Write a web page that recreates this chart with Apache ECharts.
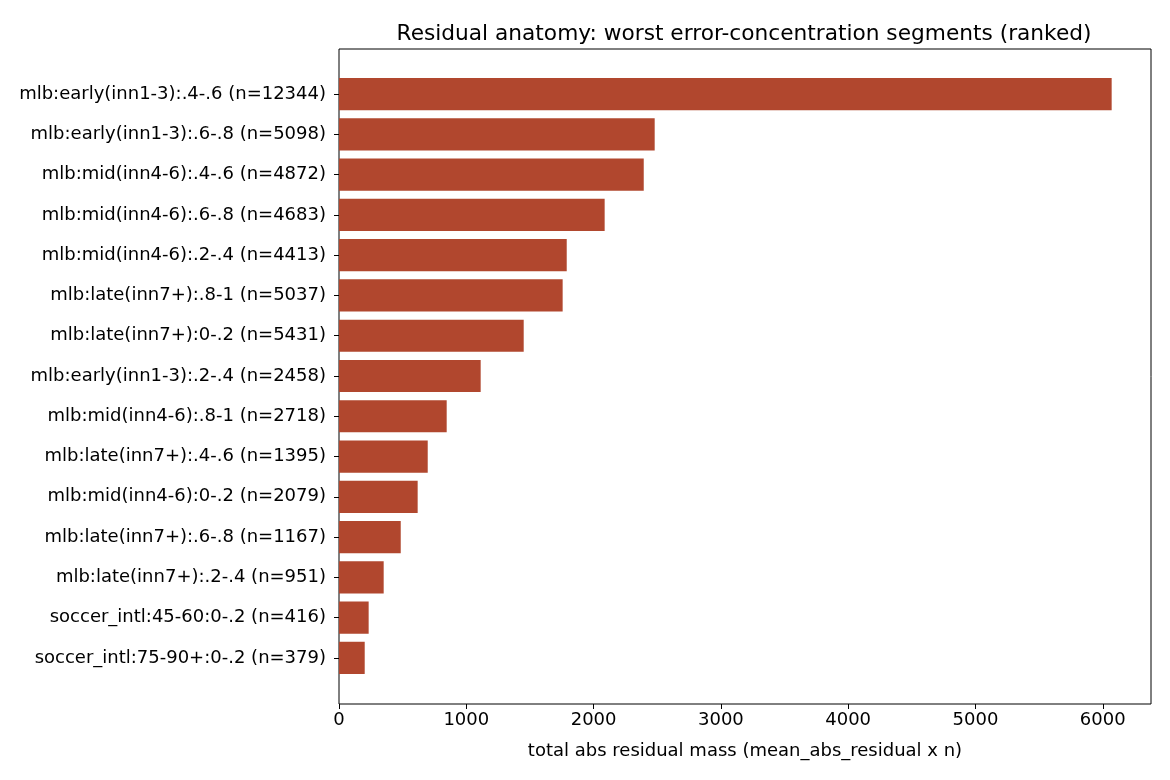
<!DOCTYPE html>
<html>
<head>
<meta charset="utf-8">
<title>Residual anatomy</title>
<script src="https://cdn.jsdelivr.net/npm/echarts@6/dist/echarts.min.js"></script>
<style>
  html, body { margin: 0; padding: 0; background: #fff; }
  #chart { width: 1170px; height: 780px; }
</style>
</head>
<body>
<div id="chart"></div>
<script>
// segments, ranked worst first
var segments = [
  'mlb:early(inn1-3):.4-.6 (n=12344)',
  'mlb:early(inn1-3):.6-.8 (n=5098)',
  'mlb:mid(inn4-6):.4-.6 (n=4872)',
  'mlb:mid(inn4-6):.6-.8 (n=4683)',
  'mlb:mid(inn4-6):.2-.4 (n=4413)',
  'mlb:late(inn7+):.8-1 (n=5037)',
  'mlb:late(inn7+):0-.2 (n=5431)',
  'mlb:early(inn1-3):.2-.4 (n=2458)',
  'mlb:mid(inn4-6):.8-1 (n=2718)',
  'mlb:late(inn7+):.4-.6 (n=1395)',
  'mlb:mid(inn4-6):0-.2 (n=2079)',
  'mlb:late(inn7+):.6-.8 (n=1167)',
  'mlb:late(inn7+):.2-.4 (n=951)',
  'soccer_intl:45-60:0-.2 (n=416)',
  'soccer_intl:75-90+:0-.2 (n=379)'
];
var residualMass = [6070, 2480, 2394, 2087, 1789, 1757, 1451, 1113, 846, 697, 618, 485, 351, 233, 202];
var xTicks = [0, 1000, 2000, 3000, 4000, 5000, 6000];
var xMax = 6379;

var font = 'DejaVu Sans';
var chart = echarts.init(document.getElementById('chart'));

chart.setOption({
  animation: false,
  textStyle: { fontFamily: font },
  title: {
    text: 'Residual anatomy: worst error-concentration segments (ranked)',
    left: 739,
    top: 18,
    textAlign: 'center',
    textStyle: { fontFamily: font, fontSize: 21.7, fontWeight: 'normal', color: '#000' }
  },
  grid: [
    // bars live here
    { left: 339, right: 19, top: 74, height: 604 },
    // axes frame
    { left: 339, right: 19, top: 49, bottom: 76, show: true, borderColor: '#000', borderWidth: 1, backgroundColor: 'transparent' }
  ],
  xAxis: [{
    gridIndex: 0,
    type: 'value',
    min: 0,
    max: xMax,
    offset: 26,
    axisLine: { show: false },
    splitLine: { show: false },
    axisTick: { show: true, length: 5, customValues: xTicks, lineStyle: { color: '#000' } },
    axisLabel: {
      customValues: xTicks, color: '#000', fontSize: 18, margin: 7, fontFamily: font,
      formatter: function (v) { return String(v); }
    },
    name: 'total abs residual mass (mean_abs_residual x n)',
    nameLocation: 'middle',
    nameGap: 38,
    nameTextStyle: { color: '#000', fontSize: 18, fontFamily: font }
  }, {
    gridIndex: 1, type: 'value', show: false
  }],
  yAxis: [{
    gridIndex: 0,
    type: 'category',
    inverse: true,
    data: segments,
    axisLine: { show: false },
    axisTick: { show: true, alignWithLabel: true, length: 5, lineStyle: { color: '#000' } },
    axisLabel: { color: '#000', fontSize: 18, margin: 13, fontFamily: font, padding: [2, 0, 0, 0] }
  }, {
    gridIndex: 1, type: 'value', show: false
  }],
  series: [{
    type: 'bar',
    xAxisIndex: 0,
    yAxisIndex: 0,
    data: residualMass,
    barWidth: '80%',
    itemStyle: { color: '#b1472e' }
  }]
});
</script>
</body>
</html>
